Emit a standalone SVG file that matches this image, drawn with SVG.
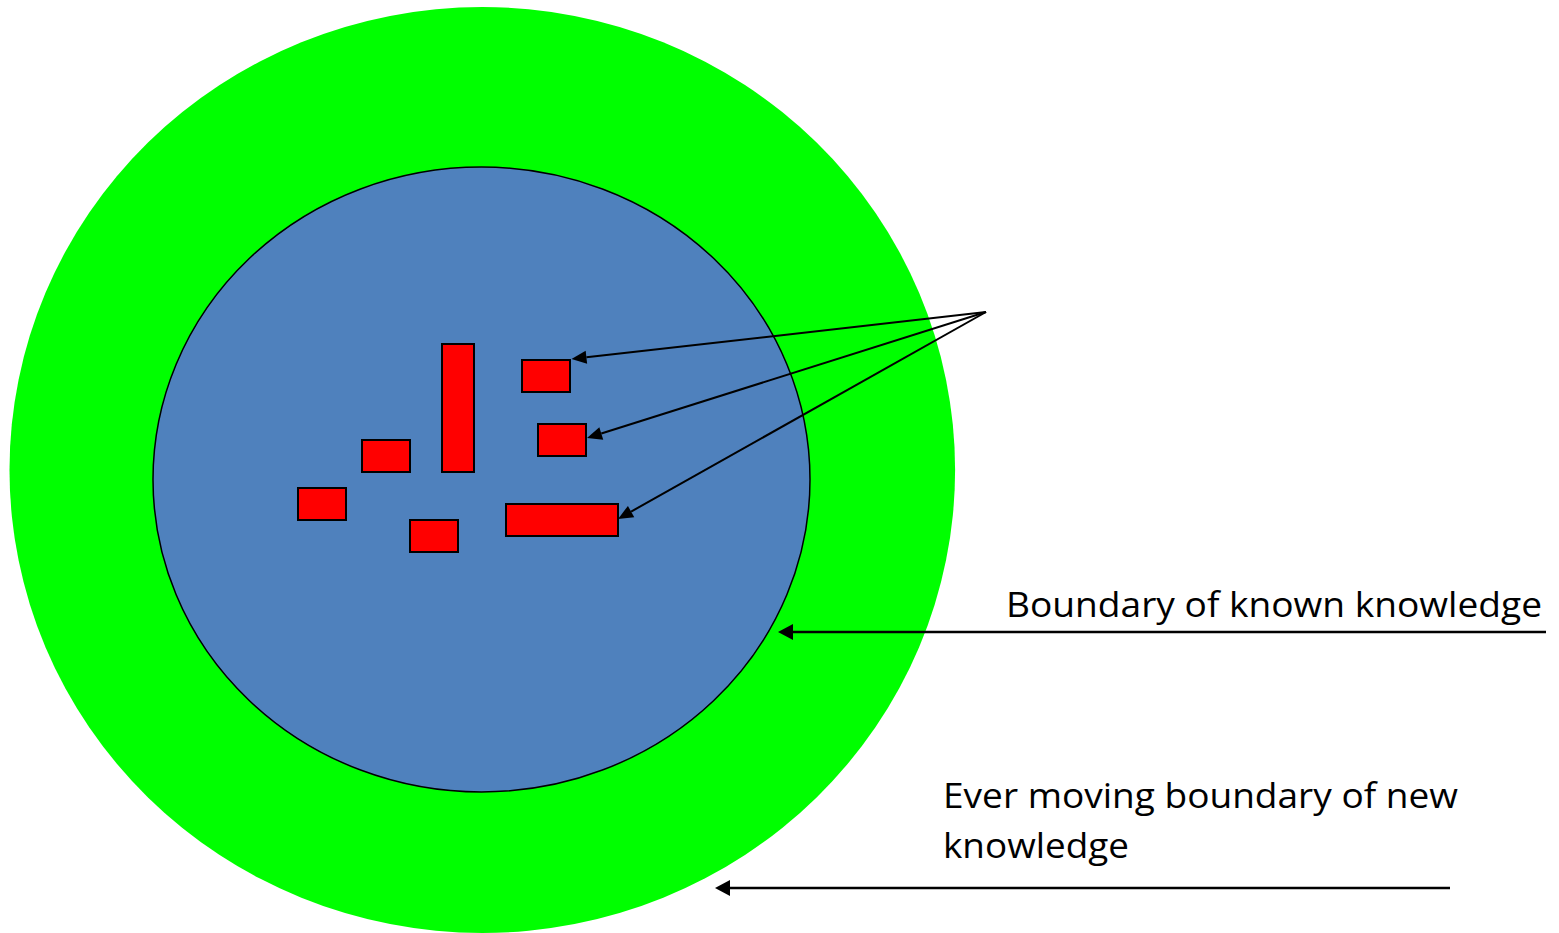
<svg xmlns="http://www.w3.org/2000/svg" width="1559" height="933" viewBox="0 0 1559 933">
  <style>
    .label { font-family: "Open Sans", "Liberation Sans", sans-serif; font-size: 34px; fill: #000000; }
    .block { fill: #FF0000; stroke: #000000; stroke-width: 2; }
    .conn { stroke: #000000; stroke-width: 2; fill: none; marker-end: url(#head); }
    .hconn { stroke: #000000; stroke-width: 2.5; fill: none; marker-end: url(#head2); }
  </style>
  <defs>
    <marker id="head" markerUnits="userSpaceOnUse" markerWidth="16" markerHeight="14" refX="0" refY="6.5" orient="auto" overflow="visible">
      <path d="M0,0 L15,6.5 L0,13 z" fill="#000000"/>
    </marker>
    <marker id="head2" markerUnits="userSpaceOnUse" markerWidth="16" markerHeight="16" refX="0" refY="8" orient="auto" overflow="visible">
      <path d="M0,0 L15,8 L0,16 z" fill="#000000"/>
    </marker>
  </defs>
  <rect x="0" y="0" width="1559" height="933" fill="#FFFFFF"/>

  <g id="outer-boundary">
    <ellipse cx="482.3" cy="470" rx="472.8" ry="463" fill="#00FF00"/>
  </g>
  <g id="known-knowledge">
    <ellipse cx="481.5" cy="479.5" rx="328.5" ry="312.5" fill="#4F81BD" stroke="#000000" stroke-width="1.5"/>
  </g>

  <g id="blocks">
    <rect id="block-tall" class="block" x="442" y="344" width="32" height="128"/>
    <rect id="block-a" class="block" x="522" y="360" width="48" height="32"/>
    <rect id="block-b" class="block" x="538" y="424" width="48" height="32"/>
    <rect id="block-c" class="block" x="362" y="440" width="48" height="32"/>
    <rect id="block-d" class="block" x="298" y="488" width="48" height="32"/>
    <rect id="block-e" class="block" x="410" y="520" width="48" height="32"/>
    <rect id="block-f" class="block" x="506" y="504" width="112" height="32"/>
  </g>

  <g id="connectors">
    <line class="conn" x1="986" y1="312" x2="586.4" y2="357.3"/>
    <line class="conn" x1="986" y1="312" x2="601.3" y2="433.5"/>
    <line class="conn" x1="986" y1="312" x2="631.1" y2="511.6"/>
    <line class="hconn" x1="1546" y1="632" x2="793" y2="632"/>
    <line class="hconn" x1="1450" y1="888" x2="730" y2="888"/>
  </g>

  <g id="label-known">
    <text class="label" x="1006" y="617" textLength="536" lengthAdjust="spacingAndGlyphs">Boundary of known knowledge</text>
  </g>
  <g id="label-new">
    <text class="label" x="943" y="808" textLength="515" lengthAdjust="spacingAndGlyphs">Ever moving boundary of new</text>
    <text class="label" x="943" y="858" textLength="186" lengthAdjust="spacingAndGlyphs">knowledge</text>
  </g>
</svg>
